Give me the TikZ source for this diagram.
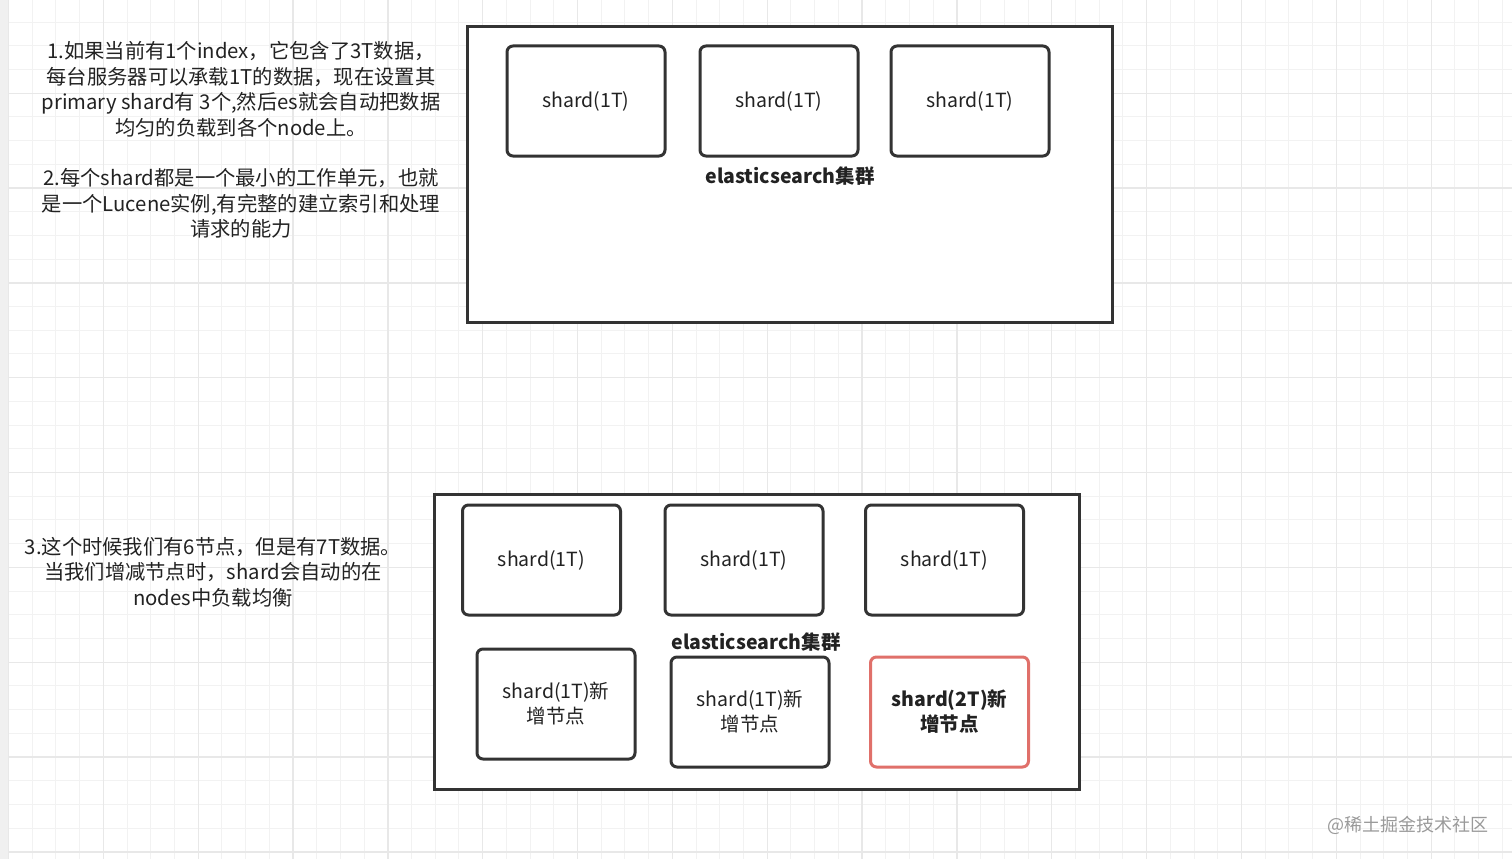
\documentclass[tikz,border=0pt]{standalone}
\usepackage{fontspec}
\setmainfont{Noto Sans CJK SC}
\definecolor{bgc}{HTML}{FFFFFF}
\definecolor{edgec}{HTML}{F0F0F0}
\definecolor{gminor}{HTML}{F2F2F2}
\definecolor{gmajor}{HTML}{E8E8E8}
\definecolor{boxc}{HTML}{333333}
\definecolor{redc}{HTML}{E0706A}
\definecolor{txtc}{HTML}{222222}
\definecolor{wmc}{HTML}{9A9A9A}
\tikzset{
  gridminor/.style={draw=gminor, line width=1pt},
  gridmajor/.style={draw=gmajor, line width=1.3pt},
  cluster/.style={draw=boxc, fill=white, line width=3pt, minimum width=645pt, minimum height=295pt, inner sep=0pt},
  shardbox/.style={draw=boxc, fill=white, line width=3pt, rounded corners=6pt, minimum width=158pt, minimum height=110pt, inner sep=0pt, align=center, text=txtc, font=\fontsize{19.5}{25}\selectfont},
  newbox/.style={shardbox, draw=redc, font=\fontsize{19.5}{25}\selectfont\bfseries},
  clabel/.style={text=txtc, font=\fontsize{19.5}{23}\selectfont\bfseries, inner sep=0pt},
  note/.style={text=txtc, align=center, font=\fontsize{20.3}{25.4}\selectfont, inner sep=0pt},
  wm/.style={text=wmc, font=\fontsize{18}{20}\selectfont, inner sep=0pt}
}
\begin{document}
\begin{tikzpicture}[x=1pt,y=-1pt]
\useasboundingbox (0,0) rectangle (1512,859);
\fill[bgc] (0,0) rectangle (1512,859);
\foreach \i in {0,...,64} { \draw[gridminor] ({8.45+23.7125*\i},0) -- ({8.45+23.7125*\i},859); }
\foreach \i in {0,...,37} { \draw[gridminor] (0,{-1.7+23.7125*\i}) -- (1512,{-1.7+23.7125*\i}); }
\foreach \i in {0,...,16} { \draw[gridmajor] ({8.45+94.85*\i},0) -- ({8.45+94.85*\i},859); }
\foreach \i in {0,...,10} { \draw[gridmajor] (0,{-1.7+94.85*\i}) -- (1512,{-1.7+94.85*\i}); }
\fill[edgec] (0,0) rectangle (8,859);

% top cluster
\node[cluster] (top) at (789.5,174.5) {};
\node[shardbox] (t1) at (586,101) {shard(1T)};
\node[shardbox] (t2) at (779,101) {shard(1T)};
\node[shardbox] (t3) at (970,101) {shard(1T)};
\node[clabel] (tl) at (790,176) {elasticsearch集群};

% bottom cluster
\node[cluster] (bot) at (756.5,641.5) {};
\node[shardbox] (b1) at (541.5,560) {shard(1T)};
\node[shardbox] (b2) at (744,560) {shard(1T)};
\node[shardbox] (b3) at (944.5,560) {shard(1T)};
\node[shardbox] (b4) at (556,704) {shard(1T)新\\增节点};
\node[shardbox] (b5) at (750,712) {shard(1T)新\\增节点};
\node[newbox] (b6) at (949.5,712) {shard(2T)新\\增节点};
\node[clabel] (bl) at (756,642) {elasticsearch集群};

% notes
\node[note] (n1) at (241,140) {1.如果当前有1个index，它包含了3T数据，\\
 每台服务器可以承载1T的数据，现在设置其\\
primary shard有 3个,然后es就会自动把数据\\
均匀的负载到各个node上。\\
~\\
2.每个shard都是一个最小的工作单元，也就\\
是一个Lucene实例,有完整的建立索引和处理\\
请求的能力};
\node[note] (n3) at (213,572) {3.这个时候我们有6节点，但是有7T数据。\\
当我们增减节点时，shard会自动的在\\
nodes中负载均衡};

\node[wm] (w) at (1408,825) {@稀土掘金技术社区};
\end{tikzpicture}
\end{document}
